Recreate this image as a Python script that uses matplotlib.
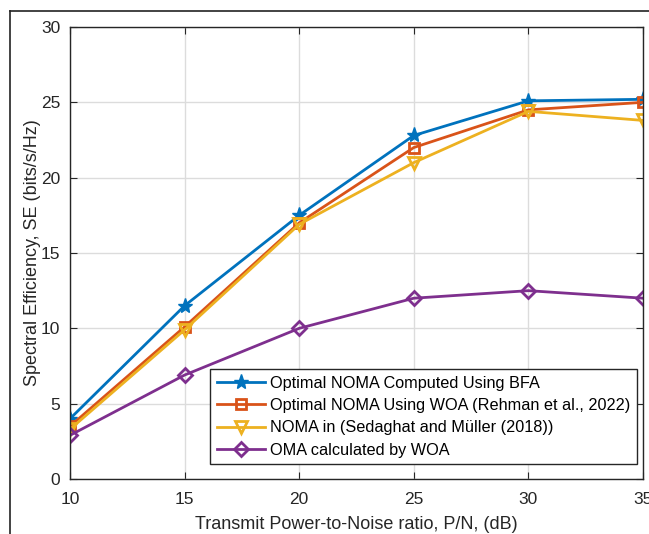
import matplotlib.pyplot as plt
from matplotlib.lines import Line2D

plt.rcParams['font.family'] = ['Liberation Sans', 'DejaVu Sans']

snr = [10, 15, 20, 25, 30, 35]
bfa = [4.0, 11.5, 17.5, 22.8, 25.1, 25.2]
woa = [3.5, 10.1, 17.0, 22.0, 24.5, 25.0]
sedaghat = [3.3, 9.9, 16.9, 21.0, 24.4, 23.8]
oma = [2.9, 6.9, 10.0, 12.0, 12.5, 12.0]

labels = ['Optimal NOMA Computed Using BFA',
          'Optimal NOMA Using WOA (Rehman et al., 2022)',
          'NOMA in (Sedaghat and M\u00fcller (2018))',
          'OMA calculated by WOA']

W, H = 649, 534
fig = plt.figure(figsize=(W / 100, H / 100), dpi=100)
ax = fig.add_axes([70 / W, 1 - 479 / H, 573 / W, 452 / H])

ax.plot(snr, bfa, color='#0072BD', lw=2, marker='*', ms=11, label=labels[0])
ax.plot(snr, woa, color='#D95319', lw=2, marker='s', ms=7, mfc='none', mew=2, label=labels[1])
ax.plot(snr, sedaghat, color='#EDB120', lw=2, marker='v', ms=9, mfc='none', mew=2, label=labels[2])
ax.plot(snr, oma, color='#7E2F8E', lw=2, marker='D', ms=7.5, mfc='none', mew=2, label=labels[3])

ax.set_xlim(10, 35)
ax.set_ylim(0, 30)
ax.set_xticks(snr)
ax.set_yticks([0, 5, 10, 15, 20, 25, 30])
ax.grid(True, color='#dcdcdc', lw=1)
ax.set_axisbelow(True)
for s in ax.spines.values():
    s.set_color('#262626')
    s.set_linewidth(1)
ax.tick_params(direction='in', top=True, right=True, labelsize=12.5, colors='#262626', length=5)
ax.tick_params(axis='x', pad=9)
ax.tick_params(axis='y', pad=7)
ax.set_xlabel('Transmit Power-to-Noise ratio, P/N, (dB)', fontsize=13, color='#262626', labelpad=7)
ax.set_ylabel('Spectral Efficiency, SE (bits/s/Hz)', fontsize=13, color='#262626', labelpad=0)

leg = ax.legend(loc='lower right', bbox_to_anchor=(567 / 573, 15 / 452), borderaxespad=0,
                fontsize=11.7, fancybox=False, framealpha=1, edgecolor='#262626',
                handlelength=3.0, borderpad=0.4, labelspacing=0.45, handletextpad=0.3)
leg.get_frame().set_linewidth(1)

# outer frame of the exported figure
fig.add_artist(Line2D([10 / W, 10 / W], [0, 1 - 11 / H], color='#222222', lw=1.2, transform=fig.transFigure))
fig.add_artist(Line2D([10 / W, 1], [1 - 11 / H, 1 - 11 / H], color='#222222', lw=1.2, transform=fig.transFigure))

fig.savefig('out.png', dpi=100)
